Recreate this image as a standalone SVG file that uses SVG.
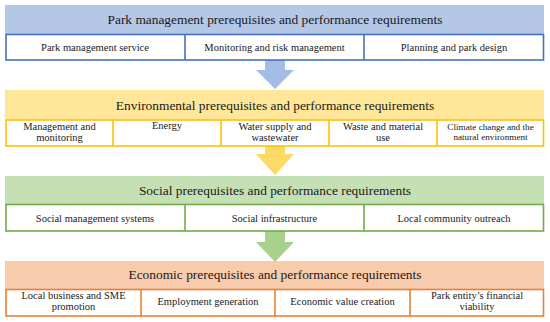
<svg xmlns="http://www.w3.org/2000/svg" width="550" height="322" viewBox="0 0 550 322">
<style>
text{font-family:"Liberation Serif","Times New Roman",serif;fill:#1a1a1a;text-anchor:middle}
.h{font-size:13.4px}
.c{font-size:10.5px}
.s{font-size:9.2px}
.row{fill:#fff;stroke-width:1.6}
.div{stroke-width:1.6}
.b .hd{fill:#b4c7e7}.b .row,.b .div{stroke:#4472c4}
.y .hd{fill:#ffe699}.y .row,.y .div{stroke:#ffc000}
.g .hd{fill:#c5e0b4}.g .row,.g .div{stroke:#70ad47}
.o .hd{fill:#f8cbad}.o .row,.o .div{stroke:#ed7d31}
</style>
<rect width="550" height="322" fill="#fff"/>
<g id="connectors">
<polygon points="265,60 285,60 285,70 294,70 275,89 256,70 265,70" fill="#a4bce6"/>
<polygon points="265,146 285,146 285,154 294,154 275,175 256,154 265,154" fill="#ffd966"/>
<polygon points="265,231 285,231 285,242 294,242 275,262 256,242 265,242" fill="#a9d18e"/>
</g>
<g id="park" class="b">
<g id="park-header"><rect class="hd" x="5" y="5" width="539" height="29"/><text class="h" x="275" y="24">Park management prerequisites and performance requirements</text></g>
<rect class="row" x="6" y="34.5" width="537.5" height="25.5"/>
<line class="div" x1="185" y1="34.5" x2="185" y2="60"/>
<line class="div" x1="364" y1="34.5" x2="364" y2="60"/>
<g id="park-service"><text class="c" x="95" y="51">Park management service</text></g>
<g id="park-monitoring"><text class="c" x="274.5" y="51">Monitoring and risk management</text></g>
<g id="park-planning"><text class="c" x="454" y="51">Planning and park design</text></g>
</g>
<g id="env" class="y">
<g id="env-header"><rect class="hd" x="5" y="90" width="539" height="29.5"/><text class="h" x="275" y="109.5">Environmental prerequisites and performance requirements</text></g>
<rect class="row" x="6" y="120" width="537.5" height="26"/>
<line class="div" x1="113" y1="120" x2="113" y2="146"/>
<line class="div" x1="221" y1="120" x2="221" y2="146"/>
<line class="div" x1="329" y1="120" x2="329" y2="146"/>
<line class="div" x1="437" y1="120" x2="437" y2="146"/>
<g id="env-management"><text class="c" x="59.5" y="130">Management and</text><text class="c" x="59.5" y="140.5">monitoring</text></g>
<g id="env-energy"><text class="c" x="167" y="128.5">Energy</text></g>
<g id="env-water"><text class="c" x="275" y="130">Water supply and</text><text class="c" x="275" y="140.5">wastewater</text></g>
<g id="env-waste"><text class="c" x="383" y="130">Waste and material</text><text class="c" x="383" y="140.5">use</text></g>
<g id="env-climate"><text class="s" x="490.5" y="130">Climate change and the</text><text class="s" x="490.5" y="139.5">natural environment</text></g>
</g>
<g id="social" class="g">
<g id="social-header"><rect class="hd" x="5" y="176" width="539" height="28"/><text class="h" x="275" y="194.5">Social prerequisites and performance requirements</text></g>
<rect class="row" x="6" y="204.5" width="537.5" height="26.5"/>
<line class="div" x1="185" y1="204.5" x2="185" y2="231"/>
<line class="div" x1="364" y1="204.5" x2="364" y2="231"/>
<g id="social-management"><text class="c" x="95" y="221.5">Social management systems</text></g>
<g id="social-infrastructure"><text class="c" x="274.5" y="221.5">Social infrastructure</text></g>
<g id="social-outreach"><text class="c" x="454" y="221.5">Local community outreach</text></g>
</g>
<g id="econ" class="o">
<g id="econ-header"><rect class="hd" x="5" y="261" width="539" height="28"/><text class="h" x="275" y="279">Economic prerequisites and performance requirements</text></g>
<rect class="row" x="6" y="289.5" width="537.5" height="26.5"/>
<line class="div" x1="141" y1="289.5" x2="141" y2="316"/>
<line class="div" x1="275" y1="289.5" x2="275" y2="316"/>
<line class="div" x1="410" y1="289.5" x2="410" y2="316"/>
<g id="econ-sme"><text class="c" x="73.5" y="299">Local business and SME</text><text class="c" x="73.5" y="309.5">promotion</text></g>
<g id="econ-employment"><text class="c" x="208" y="304.5">Employment generation</text></g>
<g id="econ-value"><text class="c" x="342.5" y="304.5">Economic value creation</text></g>
<g id="econ-financial"><text class="c" x="477" y="299">Park entity’s financial</text><text class="c" x="477" y="309.5">viability</text></g>
</g>
</svg>
